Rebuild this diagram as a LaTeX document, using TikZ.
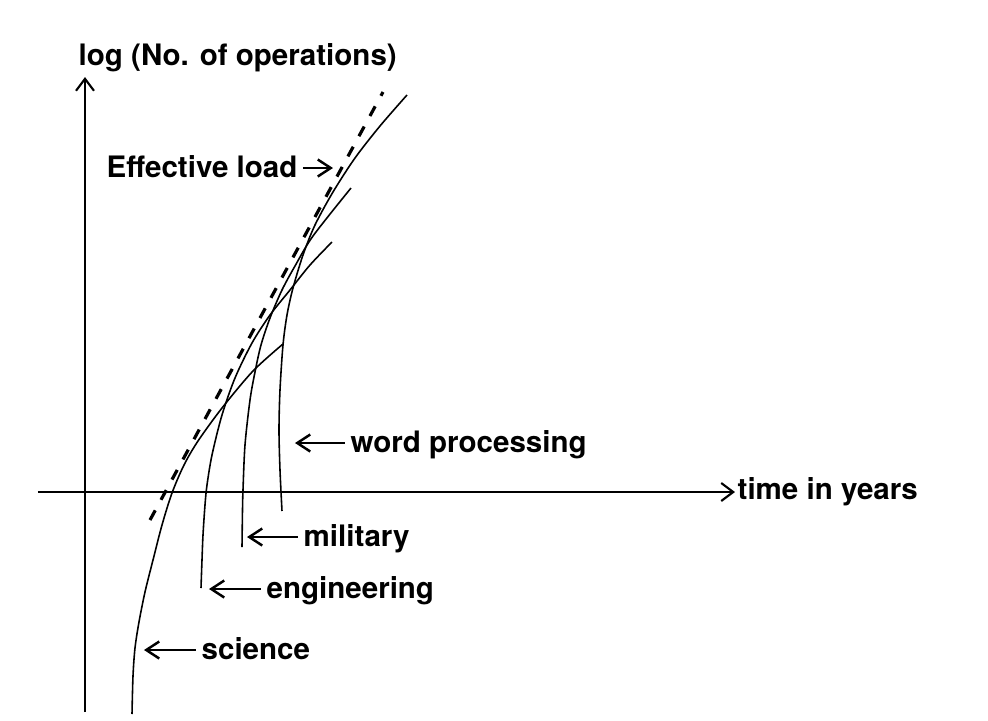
\documentclass[tikz,border=0pt]{standalone}
\usepackage{fontspec}
\setmainfont{TeX Gyre Heros}
\usetikzlibrary{arrows.meta}
\begin{document}
\begin{tikzpicture}
        [x=0.1mm, y=-0.1mm,
        every node/.style={inner sep=0pt, font=\fontsize{8.4pt}{10pt}\selectfont\bfseries},
        axis/.style={line width=0.6pt, -{Straight Barb[length=1.2mm,width=1.8mm]}},
        appcurve/.style={line width=0.45pt},
        envelope/.style={line width=0.9pt, dash pattern=on 1.1mm off 1.2mm},
        tag/.style={inner xsep=0.5mm},
        pointer/.style={line width=0.7pt, -{Straight Barb[length=1.3mm,width=1.7mm]}},
        ]
        \useasboundingbox (0,0) rectangle (988,720);
        % axes
        \coordinate (ybot) at (85,712);
        \coordinate (ytop) at (85,77);
        \coordinate (xleft) at (38,492);
        \coordinate (xright) at (735,492);
        \draw[axis] (ybot) -- (ytop);
        \draw[axis] (xleft) -- (xright);
        \node[anchor=base west] (ylab) at (78,65) {log (No. of operations)};
        \node[anchor=base west] (xlab) at (737,499) {time in years};
        % effective load
        \coordinate (effbot) at (150,520);
        \coordinate (efftop) at (383,92);
        \draw[envelope] (effbot) -- (efftop);
        % science
        \draw[appcurve] plot[smooth] coordinates {(132,714) (133,676) (135,648) (139,622)
          (145,592) (153,560) (162,525) (172,493) (184,465) (198,441) (222,408)
          (253,371) (283,344)};
        % engineering
        \draw[appcurve] plot[smooth] coordinates {(201,588) (202,560) (203,535) (205,505)
          (207,485) (212,455) (222,415) (235,378) (252,343) (270,315) (290,290)
          (310,265) (332,242)};
        % military
        \draw[appcurve] plot[smooth] coordinates {(242,547) (242.5,510) (243,490) (245,445)
          (250,400) (255,372) (261,345) (270,318) (282,290) (295,266) (313,236)
          (351,188)};
        % word processing
        \draw[appcurve] plot[smooth] coordinates {(282,511) (280,470) (279,430) (280,390)
          (283,345) (287,315) (293,288) (303,255) (315,225) (333,192) (355,158)
          (380,126) (407,95)};
        % labels
        \node[tag, anchor=mid east] (eff) at (303,168) {Effective load};
        \coordinate (efftip) at (333,168);
        \draw[pointer] (eff.mid east) -- (efftip);
        \node[tag, anchor=mid west] (wp) at (345,443) {word processing};
        \coordinate (wptip) at (295,443);
        \draw[pointer] (wp.mid west) -- (wptip);
        \node[tag, anchor=mid west] (mil) at (298,537) {military};
        \coordinate (miltip) at (247,537);
        \draw[pointer] (mil.mid west) -- (miltip);
        \node[tag, anchor=mid west] (eng) at (261,589) {engineering};
        \coordinate (engtip) at (209,589);
        \draw[pointer] (eng.mid west) -- (engtip);
        \node[tag, anchor=mid west] (sci) at (196,650) {science};
        \coordinate (scitip) at (144,650);
        \draw[pointer] (sci.mid west) -- (scitip);
\end{tikzpicture}
\end{document}
